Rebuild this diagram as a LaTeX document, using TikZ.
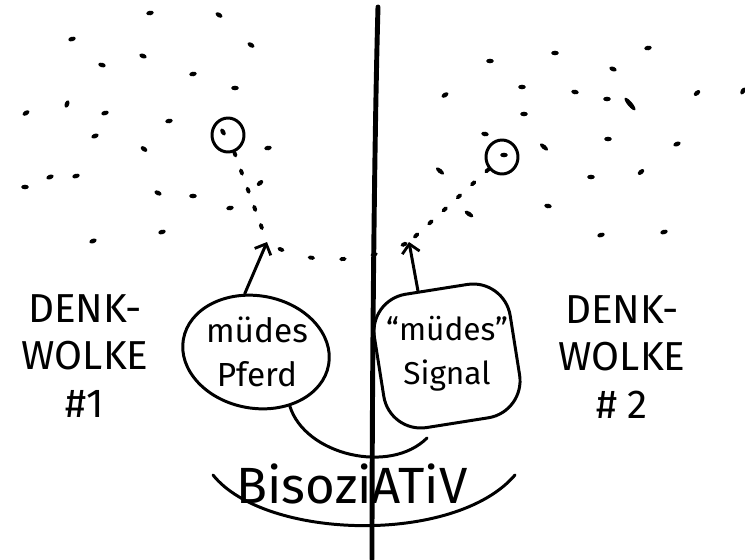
\documentclass[tikz,border=0pt]{standalone}
\usepackage{fontspec}
\setmainfont{Fira Sans}
\usetikzlibrary{arrows.meta,shapes.geometric}
\begin{document}
\begin{tikzpicture}[x=0.02cm,y=-0.02cm,
  ink/.style={line width=1.7pt, line cap=round, line join=round},
  blob/.style={ink, draw, inner sep=0pt},
  blobtext/.style={align=center, inner sep=1pt},
  ring/.style={ink, draw, ellipse, minimum width=0.64cm, minimum height=0.68cm, inner sep=0pt},
  arr/.style={ink, -{Straight Barb[length=5pt,width=10pt,line width=1.6pt]}},
  dotline/.style={line width=2.2pt, line cap=round, dash pattern=on 2pt off 9pt},
  cloudtext/.style={align=center, font=\fontsize{23}{27}\selectfont},
  speck/.style={fill=black}]
\useasboundingbox (0,0) rectangle (745,559);

% divider
\draw[line width=2.8pt, line cap=round] (378,7) .. controls (374,150) and (372,400) .. (372,559);

% scattered specks
\foreach \x/\y/\a in {150/13/10,219/15/-30,72/39/15,251/45/-30,143/56/-20,102/65/-15,193/74/10,235/88/0,67/104/70,26/113/30,105/113/15,169/121/10,95/136/20,144/149/-35,268/148/10,50/177/20,76/176/15,25/187/0,158/193/-25,193/196/0,260/183/40,230/208/10,162/232/15,93/241/20,223/132/-60,
 648/48/10,555/53/0,490/61/0,613/69/-20,522/87/0,575/92/-10,607/99/0,697/93/40,743/91/60,445/95/30,524/114/0,485/134/-10,608/139/0,677/144/20,641/172/40,591/177/0,548/206/-10,601/235/15,664/232/15,504/155/0}
  \fill[speck, rotate around={\a:(\x,\y)}] (\x,\y) ellipse [x radius=3.8, y radius=2.3];
\fill[speck, rotate around={-50:(630,104)}] (630,104) ellipse [x radius=8, y radius=2.4];
\fill[speck, rotate around={-40:(544,147)}] (544,147) ellipse [x radius=5, y radius=2.2];
\fill[speck, rotate around={-40:(440,171)}] (440,171) ellipse [x radius=5, y radius=2.2];
\fill[speck, rotate around={-35:(469,214)}] (469,214) ellipse [x radius=5, y radius=2.2];

% idea circles
\node[ring] (lc) at (228,135) {};
\node[ring] (rc) at (502,157) {};

% arrow tips of the dotted link
\coordinate (la) at (267,242);
\coordinate (ra) at (409,242);

% dotted link
\draw[dotline] (lc) -- (la);
\draw[dotline, dash pattern=on 2pt off 16pt, dash phase=-8pt] (la) .. controls (300,264) and (360,266) .. (ra);
\draw[dotline] (rc) -- (ra);

% blobs (outline) and their texts
\node[blob, ellipse, minimum width=2.95cm, minimum height=2.25cm, rotate=-10] (lbo) at (256,352) {};
\node[blobtext, font=\fontsize{19}{25}\selectfont] (lb) at (257,352) {müdes\\Pferd};
\node[blob, rounded corners=0.75cm, minimum width=2.75cm, minimum height=2.7cm, rotate=9] (rbo) at (447,356) {};
\node[blobtext, font=\fontsize{18}{25}\selectfont] (rb) at (447,354) {“müdes”\\Signal};

% arrows
\draw[arr] (lbo.111) -- (la);
\draw[arr] (rbo.105) -- (ra);

% arcs
\coordinate (ie) at (427,438);
\coordinate (oa) at (213,475);
\coordinate (ob) at (515,475);
\draw[ink] (lbo.-48) .. controls (305,455) and (390,475) .. (ie);
\draw[ink] (oa) .. controls (265,540) and (455,545) .. (ob);

% labels
\node[cloudtext] (w1) at (85,356) {DENK-\\WOLKE\\\#1};
\node[cloudtext] (w2) at (622,357) {DENK-\\WOLKE\\\# 2};
\node[font=\fontsize{29}{34}\selectfont] (biso) at (352,484) {BisoziATiV};
\end{tikzpicture}
\end{document}
